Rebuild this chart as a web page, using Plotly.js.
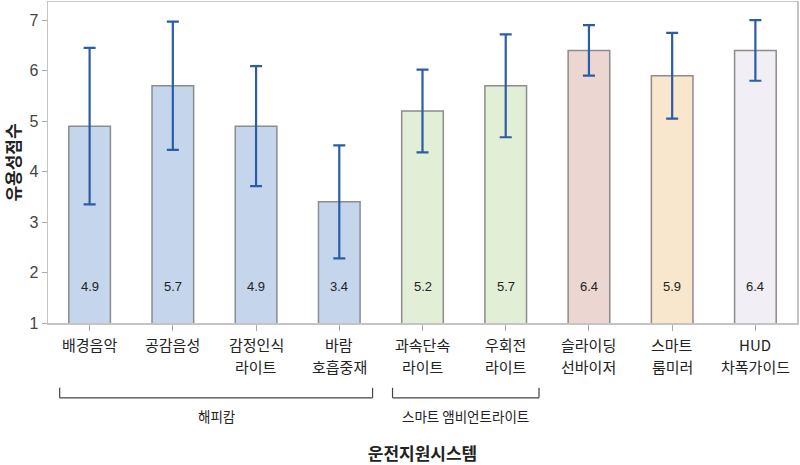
<!DOCTYPE html>
<html>
<head>
<meta charset="utf-8">
<script src="https://cdn.plot.ly/plotly-3.0.1.min.js"></script>
<style>
  body { margin: 0; background: #fff; }
  #chart { width: 800px; height: 465px; }
</style>
</head>
<body>
<div id="chart"></div>
<script>
// 운전지원시스템별 유용성 점수
const categories = ['배경음악', '공감음성', '감정인식<br>라이트', '바람<br>호흡중재',
    '과속단속<br>라이트', '우회전<br>라이트', '슬라이딩<br>선바이저', '스마트<br>룸미러', 'HUD<br>차폭가이드'];
const means = [4.9, 5.7, 4.9, 3.4, 5.2, 5.7, 6.4, 5.9, 6.4];
const errors = [1.55, 1.27, 1.19, 1.12, 0.82, 1.02, 0.5, 0.85, 0.6];
const barColors = ['#c5d6ec', '#c5d6ec', '#c5d6ec', '#c5d6ec',
    '#e3eed6', '#e3eed6', '#ecd6d1', '#f9e7cd', '#f2eef6'];

// 그룹 묶음 (카테고리 인덱스 범위)
const groups = [
    { name: '해피캄', from: 0, to: 3 },
    { name: '스마트 앰비언트라이트', from: 4, to: 5 }
];

const korFont = '"Noto Sans CJK KR", "Noto Sans", sans-serif';

const trace = {
    type: 'bar',
    x: categories,
    y: means,
    width: 0.5,
    marker: {
        color: barColors,
        line: { color: '#8c8c8c', width: 1.5 }
    },
    error_y: {
        type: 'data',
        array: errors,
        visible: true,
        color: '#2b5ca8',
        thickness: 2.2,
        width: 6
    },
    hoverinfo: 'x+y'
};

// 막대 안쪽 하단의 평균값
const valueLabels = means.map((v, i) => ({
    x: categories[i],
    y: 1.73,
    xref: 'x',
    yref: 'y',
    text: v.toFixed(1),
    showarrow: false,
    font: { family: 'Liberation Sans, Arial, sans-serif', size: 13, color: '#222' }
}));

// 카테고리 이름 (줄마다 따로 두어 줄 간격을 맞춤)
const lineY = [-0.067, -0.1355];
const tickLabels = [];
categories.forEach(c => {
    c.split('<br>').forEach((part, k) => {
        tickLabels.push({
            x: c,
            y: lineY[k],
            xref: 'x',
            yref: 'paper',
            yanchor: 'middle',
            text: part,
            showarrow: false,
            font: { family: korFont, size: 15, color: '#222' }
        });
    });
});

const shapes = [];
const groupLabels = [];
groups.forEach(g => {
    const x0 = g.from - 0.36;
    const x1 = g.to + 0.4;
    const lineStyle = { color: '#444', width: 1.2 };
    shapes.push(
        { type: 'line', xref: 'x', yref: 'paper', x0: x0, x1: x1, y0: -0.233, y1: -0.233, line: lineStyle },
        { type: 'line', xref: 'x', yref: 'paper', x0: x0, x1: x0, y0: -0.233, y1: -0.202, line: lineStyle },
        { type: 'line', xref: 'x', yref: 'paper', x0: x1, x1: x1, y0: -0.233, y1: -0.202, line: lineStyle }
    );
    groupLabels.push({
        x: (x0 + x1) / 2,
        y: -0.29,
        xref: 'x',
        yref: 'paper',
        yanchor: 'middle',
        text: g.name,
        showarrow: false,
        font: { family: korFont, size: 13.5, color: '#222' }
    });
});

const layout = {
    margin: { l: 48, r: 3, t: 2, b: 142 },
    paper_bgcolor: '#ffffff',
    plot_bgcolor: '#ffffff',
    showlegend: false,
    bargap: 0.5,
    font: { family: korFont, color: '#222' },
    xaxis: {
        type: 'category',
        showticklabels: false,
        ticks: 'outside',
        ticklen: 6,
        tickcolor: '#aaa',
        showline: true,
        linecolor: '#c4c4c4',
        linewidth: 1.5,
        mirror: true,
        showgrid: false,
        title: {
            text: '<b>운전지원시스템</b>',
            font: { family: korFont, size: 17, color: '#222' },
            standoff: 121
        }
    },
    yaxis: {
        range: [1, 7.36],
        dtick: 1,
        tick0: 1,
        tickfont: { family: 'Liberation Sans, Arial, sans-serif', size: 16, color: '#444' },
        ticks: 'outside',
        ticklen: 5,
        tickcolor: '#aaa',
        showline: true,
        linecolor: '#c4c4c4',
        linewidth: 1.5,
        mirror: true,
        showgrid: false,
        zeroline: false,
        title: {
            text: '<b>유용성점수</b>',
            font: { family: korFont, size: 17, color: '#222' },
            standoff: 6
        }
    },
    shapes: shapes,
    annotations: valueLabels.concat(tickLabels, groupLabels)
};

Plotly.newPlot('chart', [trace], layout, { displayModeBar: false, staticPlot: true });
</script>
</body>
</html>
